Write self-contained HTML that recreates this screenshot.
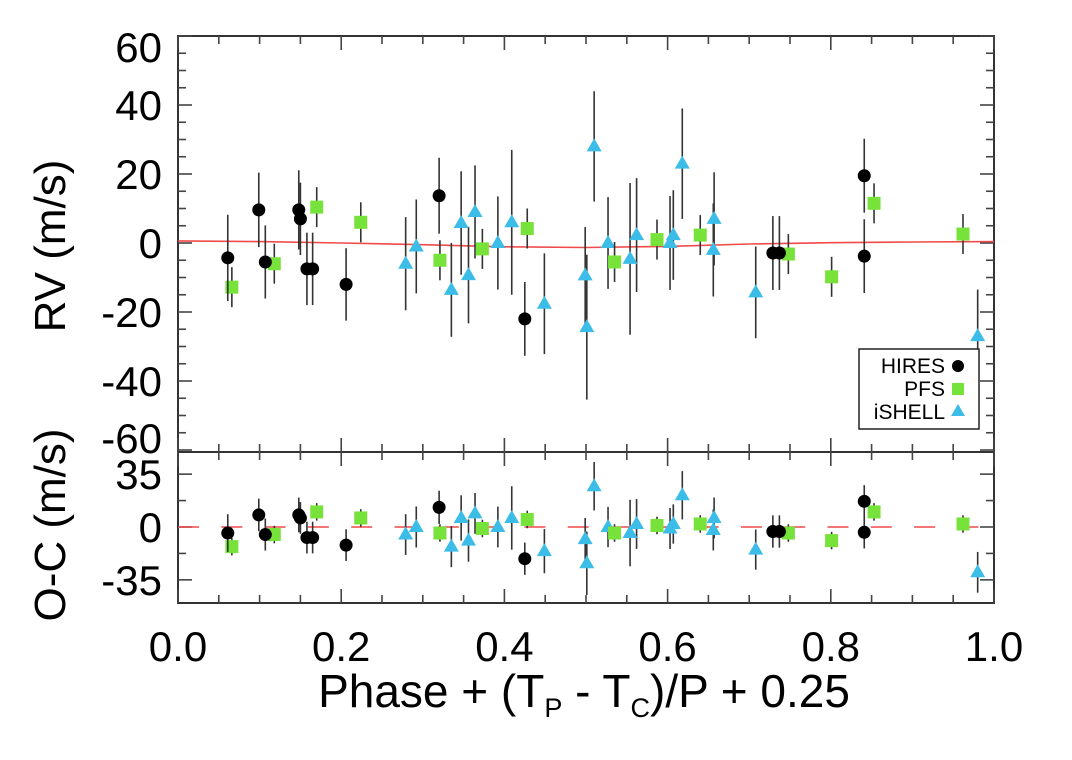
<!DOCTYPE html>
<html><head><meta charset="utf-8">
<style>
html,body{margin:0;padding:0;background:#fff;}
svg{display:block;font-family:"Liberation Sans",Arial,sans-serif;}
</style></head>
<body>
<svg id="chart" width="1072" height="760" viewBox="0 0 1072 760" xmlns="http://www.w3.org/2000/svg">
  <g id="frames"></g>
  <g id="ticks"></g>
  <g id="model"></g>
  <g id="marks"></g>
  <g id="labels"></g>
  <text transform="translate(65,246) rotate(-90)" text-anchor="middle" font-size="44">RV (m/s)</text>
  <text transform="translate(65,525) rotate(-90)" text-anchor="middle" font-size="44">O-C (m/s)</text>
  <text x="584" y="707" text-anchor="middle" font-size="46">Phase + (T<tspan font-size="27" dy="10">P</tspan><tspan dy="-10"> - T</tspan><tspan font-size="27" dy="10">C</tspan><tspan dy="-10">)/P + 0.25</tspan></text>
  <g>
    <rect x="859" y="349" width="120" height="80" fill="#fff" stroke="#222" stroke-width="1.5"/>
    <text x="945" y="373" text-anchor="end" font-size="21">HIRES</text>
    <circle cx="958" cy="366" r="6" fill="#000"/>
    <text x="945" y="396" text-anchor="end" font-size="21">PFS</text>
    <rect x="952" y="383" width="12" height="12" fill="#77e23a"/>
    <text x="945" y="419" text-anchor="end" font-size="21">iSHELL</text>
    <polygon points="958,404 965,416 951,416" fill="#3cbde8"/>
  </g>
</svg>
<script>
// ---- data ----
const hiresPhase = [0.061,0.099,0.107,0.148,0.150,0.158,0.165,0.206,0.320,0.425,0.729,0.737,0.841,0.841];
const hiresRV    = [-4.3,9.6,-5.5,9.6,7.0,-7.5,-7.5,-12,13.7,-22,-2.9,-2.9,19.5,-3.8];
const hiresErr   = [12.5,10.8,10.6,11.5,10.5,10.5,10.5,10.5,11,10.7,10.7,10.7,10.7,10.7];
const hiresOC    = [-4,8,-5,8,6,-7,-7,-12,13,-21,-3,-3,17,-3.5];

const pfsPhase = [0.066,0.118,0.170,0.224,0.321,0.373,0.428,0.535,0.587,0.640,0.748,0.801,0.853,0.962];
const pfsRV    = [-12.8,-6,10.4,6,-5,-1.7,4.2,-5.5,1,2.3,-3.2,-9.8,11.5,2.6];
const pfsErr   = [5.8,5.8,5.8,5.8,5.8,5.8,5.8,5.8,5.8,5.8,5.8,5.8,5.8,5.8];
const pfsOC    = [-13,-5,10,6,-4,-1,5,-4,1,2,-4,-9,10,2];

const ishPhase = [0.279,0.292,0.335,0.347,0.356,0.364,0.392,0.409,0.449,0.499,0.501,0.510,0.527,0.554,0.562,0.603,0.607,0.618,0.657,0.656,0.708,0.980];
const ishRV    = [-6,-1,-13.6,5.8,-9.3,9,0,6,-17.6,-9.4,-24.4,28,0,-4.6,2.3,0,2.3,23,7,-2,-14.3,-27];
const ishErr   = [13.5,13.6,13.6,15,14,13.5,13.5,21,14.6,14,21,16,13.3,22,16.5,13.6,13,16,13.5,13.5,13.3,13.5];
const ishOC    = [-5,0,-13,6,-9,9,0,6,-16,-8,-24,27,0,-4,2,-1,2,21,6,-2,-15,-30];

const modelPhase = [0,0.1,0.2,0.3,0.4,0.5,0.6,0.7,0.8,0.9,1.0];
const modelRV    = [0.6,0.4,0,-0.5,-1.1,-1.3,-1,-0.3,0.1,0.3,0.4];

const xTicks = [0.0,0.2,0.4,0.6,0.8,1.0];
const xTickLabels = ["0.0","0.2","0.4","0.6","0.8","1.0"];
const rvTicks = [60,40,20,0,-20,-40,-60];
const rvTickLabels = ["60","40","20","0","-20","-40","-60"];
const ocTicks = [35,0,-35];
const ocTickLabels = ["35","0","-35"];

// ---- axes ----
const X0=178, X1=994, TOP=36, MID=452, BOT=603;
const xs = p => X0 + (X1-X0)*p;
const yRV = v => 243 - v*3.45;
const yOC = v => 527 - v*1.51;
const NS="http://www.w3.org/2000/svg";
function mk(tag, attrs, parent){ const e=document.createElementNS(NS,tag); for(const k in attrs) e.setAttribute(k,attrs[k]); parent.appendChild(e); return e; }

const frames=document.getElementById('frames');
const f1=mk('rect',{x:X0,y:TOP,width:X1-X0,height:MID-TOP,fill:'none',stroke:'#333','stroke-width':2},frames);


const f2=mk('rect',{x:X0,y:MID,width:X1-X0,height:BOT-MID,fill:'none',stroke:'#333','stroke-width':2},frames);



const ticks=document.getElementById('ticks');
function tick(x1,y1,x2,y2){ const t=mk('line',{x1,y1,x2,y2,stroke:'#444','stroke-width':1.6},ticks);
  
   }
for(let i=0;i<=20;i++){
  const p=i*0.05, x=xs(p), L=(i%4===0)?14:8;
  [[TOP,1],[MID,-1],[MID,1],[BOT,-1]].forEach(([y,d])=>tick(x,y,x,y+d*L));
}
for(let v=-60;v<=60;v+=5){ const y=yRV(v), L=(v%20===0)?14:8; tick(X0,y,X0+L,y); tick(X1,y,X1-L,y); }
for(let v=-35;v<=35;v+=17.5){ const y=yOC(v), L=(Math.abs(v)%35===0)?14:8; tick(X0,y,X0+L,y); tick(X1,y,X1-L,y); }

// labels
const labels=document.getElementById('labels');
xTicks.forEach((p,i)=>{ const t=mk('text',{x:xs(p),y:661,'text-anchor':'middle','font-size':42},labels); t.textContent=xTickLabels[i];
  
   });
rvTicks.forEach((v,i)=>{
  let sh = 0; if(i===0) sh=11; if(i===rvTicks.length-1) sh=-12;
  const t=mk('text',{x:162,y:yRV(v)+15+sh,'text-anchor':'end','font-size':42},labels); t.textContent=rvTickLabels[i];
  
   });
ocTicks.forEach((v,i)=>{ const t=mk('text',{x:162,y:yOC(v)+15,'text-anchor':'end','font-size':42},labels); t.textContent=ocTickLabels[i];
  
   });

// model
const model=document.getElementById('model');
const pts=modelPhase.map((p,i)=>xs(p).toFixed(1)+','+yRV(modelRV[i]).toFixed(1)).join(' ');
const ml=mk('polyline',{points:pts,fill:'none',stroke:'#f04a4a','stroke-width':1.6},model);


const zl=mk('line',{x1:X0,y1:yOC(0),x2:X1,y2:yOC(0),stroke:'#f04a4a','stroke-width':1.4,'stroke-dasharray':'21 22.3'},model);



// marks
const marks=document.getElementById('marks');
function errbar(x,yf,v,e){ const l=mk('line',{x1:x,y1:yf(v+e),x2:x,y2:yf(v-e),stroke:'#333','stroke-width':1.6},marks);
  
   }
function marker(kind,x,y){
  let m;
  if(kind==='hires') m=mk('circle',{cx:x,cy:y,r:6.5,fill:'#000'},marks);
  else if(kind==='pfs') m=mk('rect',{x:x-6.5,y:y-6.5,width:13,height:13,fill:'#77e23a'},marks);
  else m=mk('polygon',{points:`${x},${y-8} ${x+7.5},${y+5} ${x-7.5},${y+5}`,fill:'#3cbde8'},marks);
  
  
}
function series(kind,ph,rv,er,oc){
  ph.forEach((p,i)=>{ const x=xs(p);
    errbar(x,yRV,rv[i],er[i]); errbar(x,yOC,oc[i],er[i]); });
  ph.forEach((p,i)=>{ const x=xs(p);
    marker(kind,x,yRV(rv[i])); marker(kind,x,yOC(oc[i])); });
}
series('ishell',ishPhase,ishRV,ishErr,ishOC);
series('pfs',pfsPhase,pfsRV,pfsErr,pfsOC);
series('hires',hiresPhase,hiresRV,hiresErr,hiresOC);
</script>
</body></html>
